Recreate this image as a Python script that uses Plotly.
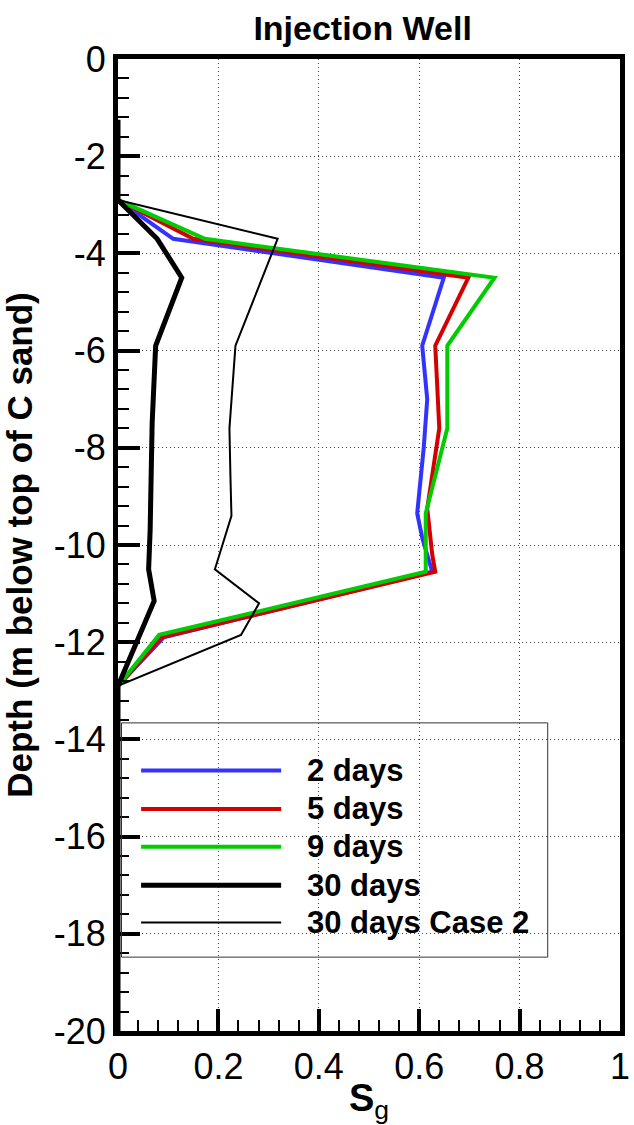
import plotly.graph_objects as go

# Gas saturation profiles along the injection well
depth_2d = [-2.9, -3.7, -4.5, -5.9, -7.0, -8.0, -9.35, -9.85, -10.55, -11.9, -12.9]
sg_2d = [0.0, 0.110, 0.649, 0.606, 0.616, 0.609, 0.596, 0.606, 0.626, 0.091, 0.0]

depth_5d = [-2.9, -3.7, -4.5, -5.9, -7.6, -9.25, -10.2, -10.55, -11.9, -12.9]
sg_5d = [0.0, 0.150, 0.698, 0.632, 0.640, 0.616, 0.626, 0.632, 0.087, 0.0]

depth_9d = [-2.9, -3.7, -4.5, -5.9, -7.6, -9.35, -10.55, -11.85, -12.9]
sg_9d = [0.0, 0.173, 0.750, 0.656, 0.656, 0.613, 0.613, 0.082, 0.0]

depth_30d = [-1.25, -2.9, -3.7, -4.5, -5.9, -7.5, -9.7, -10.5, -11.15, -12.9, -20.0]
sg_30d = [0.0, 0.0, 0.078, 0.127, 0.075, 0.068, 0.064, 0.061, 0.072, 0.0, 0.0]

depth_case2 = [-2.9, -3.7, -5.9, -7.6, -8.6, -9.4, -10.5, -11.2, -11.85, -12.9]
sg_case2 = [0.0, 0.318, 0.234, 0.222, 0.224, 0.226, 0.193, 0.281, 0.245, 0.0]

series_names = ["2 days", "5 days", "9 days", "30 days", "30 days Case 2"]
series_colors = ["#3333ff", "#d40000", "#00cc00", "#000000", "#000000"]
series_widths = [4, 4, 4, 5, 2]

x_ticks = [0, 0.2, 0.4, 0.6, 0.8, 1]
x_tick_labels = ["0", "0.2", "0.4", "0.6", "0.8", "1"]
y_ticks = [0, -2, -4, -6, -8, -10, -12, -14, -16, -18, -20]
y_tick_labels = ["0", "-2", "-4", "-6", "-8", "-10", "-12", "-14", "-16", "-18", "-20"]

profiles = [
    (sg_2d, depth_2d),
    (sg_5d, depth_5d),
    (sg_9d, depth_9d),
    (sg_30d, depth_30d),
    (sg_case2, depth_case2),
]

FONT = "Arial, 'Liberation Sans', sans-serif"

fig = go.Figure()
for (xs, ys), name, col, w in zip(profiles, series_names, series_colors, series_widths):
    fig.add_trace(go.Scatter(
        x=xs, y=ys, mode="lines", name=name,
        line=dict(color=col, width=w), showlegend=False,
    ))

# Boxed legend placed inside the axes, in data units
leg_x0, leg_x1 = 0.007, 0.856
leg_top, leg_bottom = -13.66, -18.48
leg_line_x = (0.046, 0.325)
leg_text_x = 0.372
leg_rows = [-14.64, -15.43, -16.21, -17.0, -17.77]

fig.add_shape(type="rect", xref="x", yref="y",
              x0=leg_x0, x1=leg_x1, y0=leg_bottom, y1=leg_top,
              line=dict(color="#333333", width=1), fillcolor="rgba(0,0,0,0)",
              layer="above")
for name, col, w, ry in zip(series_names, series_colors, series_widths, leg_rows):
    fig.add_shape(type="line", xref="x", yref="y",
                  x0=leg_line_x[0], x1=leg_line_x[1], y0=ry, y1=ry,
                  line=dict(color=col, width=w), layer="above")
    fig.add_annotation(x=leg_text_x, y=ry, xref="x", yref="y",
                       text="<b>%s</b>" % name, showarrow=False,
                       xanchor="left", yanchor="middle",
                       font=dict(family=FONT, size=31, color="black"))

axis_common = dict(
    showline=True, linecolor="black", linewidth=5, mirror=True,
    ticks="inside", tickcolor="black", tickwidth=4, ticklen=22,
    showgrid=True, gridcolor="#444444", gridwidth=1, griddash="1px,3px",
    zeroline=False,
    tickfont=dict(family=FONT, size=36, color="black"),
    ticklabeloverflow="allow",
)

fig.update_xaxes(
    range=[0, 1], tickvals=x_ticks, ticktext=x_tick_labels,
    minor=dict(ticks="inside", dtick=0.04, ticklen=11, tickwidth=1.5,
               tickcolor="black", showgrid=False),
    title=dict(text="<b>S</b><sub>g</sub>",
               font=dict(family=FONT, size=38, color="black"), standoff=2),
    **axis_common,
)
fig.update_yaxes(
    range=[-20, 0], tickvals=y_ticks, ticktext=y_tick_labels,
    minor=dict(ticks="inside", dtick=0.4, ticklen=11, tickwidth=1.5,
               tickcolor="black", showgrid=False),
    title=dict(text="<b>Depth (m below top of C sand)</b>",
               font=dict(family=FONT, size=35, color="black"), standoff=12),
    **axis_common,
)

fig.update_layout(
    width=634, height=1125,
    margin=dict(l=118, r=4, t=59, b=94),
    paper_bgcolor="white", plot_bgcolor="white",
    title=dict(text="<b>Injection Well</b>", x=0.572, xanchor="center",
               y=1 - 28 / 1125, yanchor="middle",
               font=dict(family=FONT, size=34, color="black")),
    showlegend=False,
)

fig.write_html("out.html")
